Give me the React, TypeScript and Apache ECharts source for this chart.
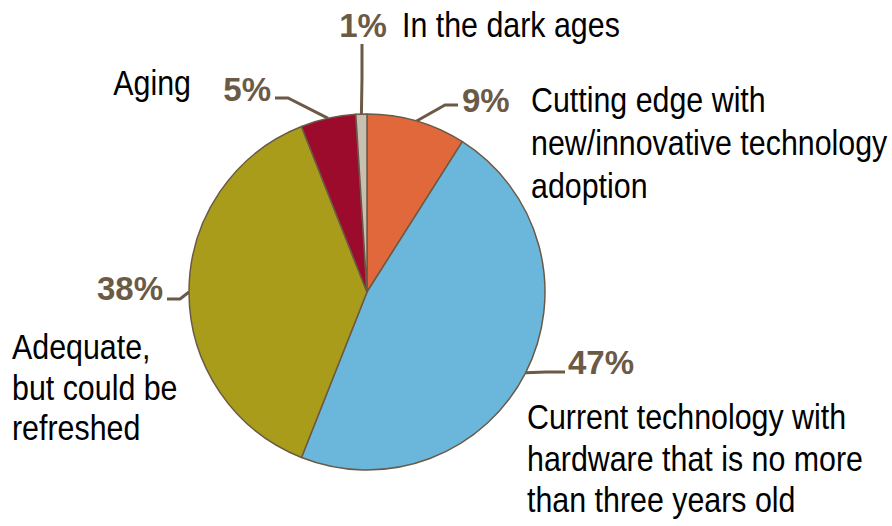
import React, { useEffect, useRef } from "react";
import * as echarts from "echarts";

const categories = [
  "Cutting edge with\nnew/innovative technology\nadoption",
  "Current technology with\nhardware that is no more\nthan three years old",
  "Adequate,\nbut could be\nrefreshed",
  "Aging",
  "In the dark ages",
];
const values = [9, 47, 38, 5, 1];
const colors = ["#E0683A", "#6BB6DB", "#A89C1A", "#9C0A2C", "#C8BFB3"];

const BROWN = "#6B5A45";
const NAME_FONT = '"Liberation Sans", Arial, sans-serif';

// layout of percentage labels
const pctLayout: any[] = [
  { x: 462, y: 100, align: "left", mid: [445, 105], end: [458, 105] },
  { x: 568, y: 362, align: "left", mid: [546, 372], end: [565, 372] },
  { x: 163, y: 288, align: "right", mid: [180, 299], end: [167, 299] },
  { x: 271, y: 89, align: "right", mid: [288, 98], end: [275, 98] },
  { x: 363, y: 25, align: "center", mid: [362, 78], end: [362, 44] },
];
// layout of category names
const nameLayout: any[] = [
  { x: 531, y: 100, align: "left", lh: 43 },
  { x: 527, y: 417, align: "left", lh: 41.5 },
  { x: 12, y: 347, align: "left", lh: 40.5 },
  { x: 191, y: 83, align: "right", lh: 40 },
  { x: 402, y: 25, align: "left", lh: 40 },
];

export default function App() {
  const ref = useRef<HTMLDivElement>(null);
  useEffect(() => {
    if (!ref.current) return;
    const chart = echarts.init(ref.current, undefined, { renderer: "svg" });
    const total = values.reduce((a, b) => a + b, 0);
    const cx = 367, cy = 292, r = 178;
    const anchorOf = (i: number) => {
      let acc = 0;
      for (let k = 0; k < i; k++) acc += values[k];
      const mid = ((acc + values[i] / 2) / total) * Math.PI * 2;
      return [cx + r * Math.sin(mid), cy - r * Math.cos(mid)];
    };
    chart.setOption({
      animation: false,
      backgroundColor: "#ffffff",
      graphic: categories.map((name, i) => ({
        type: "text",
        x: nameLayout[i].x,
        y: nameLayout[i].y - nameLayout[i].lh / 2,
        scaleX: 0.868,
        silent: true,
        style: {
          text: name,
          font: `35px ${NAME_FONT}`,
          fill: "#000000",
          textAlign: nameLayout[i].align,
          textVerticalAlign: "top",
          lineHeight: nameLayout[i].lh,
        },
      })),
      series: [
        {
          type: "pie",
          center: [cx, cy],
          radius: r,
          startAngle: 90,
          clockwise: true,
          avoidLabelOverlap: false,
          itemStyle: { borderColor: BROWN, borderWidth: 1.5 },
          data: values.map((v, i) => ({
            value: v,
            name: categories[i],
            itemStyle: { color: colors[i] },
          })),
          label: {
            show: true,
            formatter: (p: any) => `${p.value}%`,
            fontFamily: '"Liberation Sans", Arial, sans-serif',
            fontWeight: "bold",
            fontSize: 33,
            color: BROWN,
          },
          labelLine: { show: true, lineStyle: { color: BROWN, width: 3 } },
          labelLayout: (params: any) => {
            const i = params.dataIndex;
            const L = pctLayout[i];
            const a =
              params.labelLinePoints && params.labelLinePoints[0]
                ? params.labelLinePoints[0]
                : anchorOf(i);
            return {
              x: L.x,
              y: L.y,
              align: L.align,
              verticalAlign: "middle",
              labelLinePoints: [a, L.mid, L.end],
            };
          },
        },
      ],
    });
    return () => chart.dispose();
  }, []);
  return (
    <div
      ref={ref}
      style={{ position: "fixed", left: 0, top: 0, width: 892, height: 526 }}
    />
  );
}
